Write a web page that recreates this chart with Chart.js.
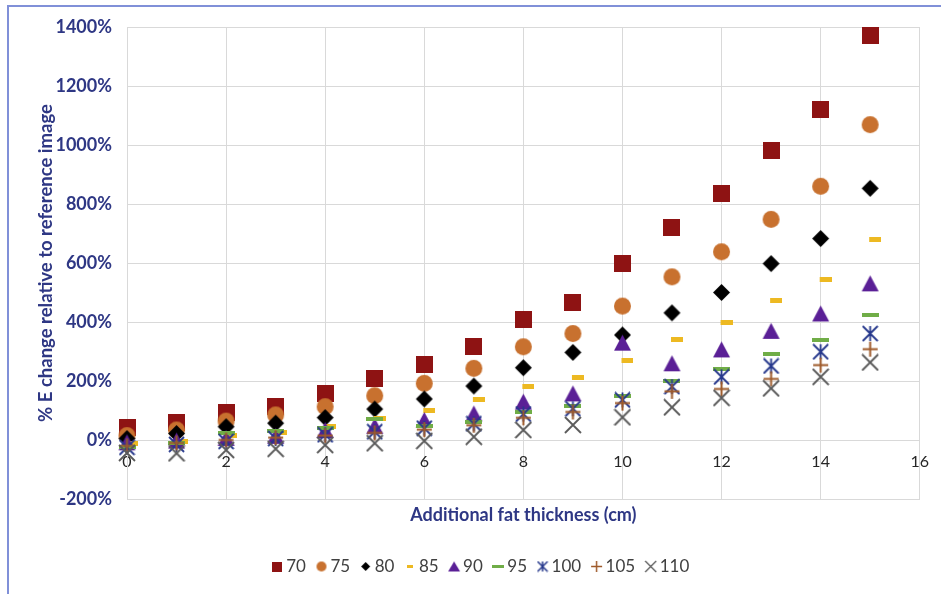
<!DOCTYPE html>
<html><head><meta charset="utf-8">
<script src="https://cdn.jsdelivr.net/npm/chart.js@4/dist/chart.umd.min.js"></script>
<style>
html,body{margin:0;padding:0;background:#fff;}
#wrap{position:relative;width:941px;height:594px;overflow:hidden;}
#frame{position:absolute;left:7px;top:5px;right:-4px;bottom:-4px;border-left:2px solid #8090D8;border-top:2px solid #8090D8;}
canvas{position:absolute;left:0;top:0;}
</style></head><body>
<div id="wrap"><div id="frame"></div><canvas id="c" width="941" height="594"></canvas></div>
<script>
// ---- data ----
const thickness = [0,1,2,3,4,5,6,7,8,9,10,11,12,13,14,15];
const seriesNames = ['70','75','80','85','90','95','100','105','110'];
const s70  = [42, 61, 93, 115, 156, 208, 257, 318, 409, 466, 598, 722, 836, 982, 1120, 1371];
const s75  = [15, 34, 64, 85, 113, 150, 192, 243, 316, 361, 454, 553, 638, 748, 860, 1069];
const s80  = [5, 22, 45, 57, 76, 105, 139, 183, 245, 297, 356, 431, 500, 598, 683, 853];
const s85  = [-12, -4, 14, 25, 46, 72, 99, 136, 183, 213, 271, 339, 397, 474, 545, 678];
const s90  = [-8, -2, 7, 14, 34, 48, 68, 90, 130, 158, 330, 260, 307, 370, 429, 531];
const s95  = [-25, -10, 25, 30, 40, 70, 46, 62, 96, 115, 150, 200, 242, 291, 339, 424];
const s100 = [-25, -15, -5, 5, 18, 28, 40, 55, 88, 106, 136, 181, 214, 251, 299, 361];
const s105 = [-20, -10, 0, 8, 15, 24, 35, 50, 75, 95, 125, 165, 173, 207, 254, 308];
const s110 = [-44, -45, -34, -30, -17, -11, -3, 11, 34, 51, 77, 111, 143, 175, 214, 263];
const seriesValues = [s70, s75, s80, s85, s90, s95, s100, s105, s110];
const yTickValues = [-200, 0, 200, 400, 600, 800, 1000, 1200, 1400];
const xTickValues = [0, 2, 4, 6, 8, 10, 12, 14, 16];

// ---- styles ----
const colors = ['#8E1313','#C8712F','#000000','#EDB922','#5A1F96','#70AD47','#26388C','#9E5A2A','#595959'];
const navy = '#2E3784';
const FONT = 'Lato';

function mk(w, h, draw) {
  const c = document.createElement('canvas');
  c.width = w; c.height = h;
  draw(c.getContext('2d'), w, h);
  return c;
}
function square(s, col){ return mk(s, s, g=>{g.fillStyle=col; g.fillRect(0,0,s,s);}); }
function circle(d, col){ const n=d+2; return mk(n,n,g=>{g.fillStyle=col; g.beginPath(); g.arc(n/2,n/2,d/2,0,Math.PI*2); g.fill();}); }
function diamond(d, col){ const n=d+2; return mk(n,n,g=>{g.fillStyle=col; g.beginPath(); g.moveTo(n/2,1); g.lineTo(n-1,n/2); g.lineTo(n/2,n-1); g.lineTo(1,n/2); g.closePath(); g.fill();}); }
function dash(w,h,dx,col){ const W=Math.ceil(2*(Math.abs(dx)+w/2)); return mk(W,h,g=>{g.fillStyle=col; g.fillRect(W/2+dx-w/2,0,w,h);}); }
function triangle(w,h,col){ return mk(w+2,h+2,g=>{g.fillStyle=col; g.beginPath(); g.moveTo((w+2)/2,1); g.lineTo(w+1,h+1); g.lineTo(1,h+1); g.closePath(); g.fill();}); }
function strokes(s, lw, col, kind){
  const n = s+2;
  return mk(n,n,g=>{
    g.strokeStyle=col; g.lineWidth=lw; g.lineCap='butt'; g.beginPath();
    if (kind==='x' || kind==='ast'){ g.moveTo(1,1); g.lineTo(n-1,n-1); g.moveTo(n-1,1); g.lineTo(1,n-1); }
    if (kind==='ast' || kind==='plus'){ g.moveTo(n/2,1); g.lineTo(n/2,n-1); }
    if (kind==='plus'){ g.moveTo(1,n/2); g.lineTo(n-1,n/2); }
    g.stroke();
  });
}
const chartMarkers = [
  square(17, colors[0]), circle(17, colors[1]), diamond(17, colors[2]),
  dash(12, 5, 5, colors[3]), triangle(17, 16, colors[4]), dash(17, 4, 0, colors[5]),
  strokes(15, 1.8, colors[6], 'ast'), strokes(15, 2, colors[7], 'plus'), strokes(16, 1.8, colors[8], 'x')
];
const legendMarkers = [
  square(10, colors[0]), circle(10, colors[1]), diamond(9, colors[2]),
  dash(6, 3, 0, colors[3]), triangle(12, 10, colors[4]), dash(12, 3, 0, colors[5]),
  strokes(10, 1.5, colors[6], 'ast'), strokes(11, 1.5, colors[7], 'plus'), strokes(11, 1.3, colors[8], 'x')
];

const datasets = seriesNames.map((name, i) => ({
  label: name,
  data: thickness.map((x, j) => ({x: x, y: seriesValues[i][j]})),
  pointStyle: chartMarkers[i],
  pointRadius: 9, pointHoverRadius: 9,
  backgroundColor: colors[i], borderColor: colors[i],
  showLine: false, clip: false,
  order: seriesNames.length - i
}));

new Chart(document.getElementById('c'), {
  type: 'scatter',
  data: { datasets },
  options: {
    responsive: false, animation: false, devicePixelRatio: 1,
    layout: { padding: { left: 44, top: 27, right: 19, bottom: 9 } },
    plugins: {
      tooltip: { enabled: false },
      legend: {
        position: 'bottom',
        labels: {
          usePointStyle: true, boxWidth: 1, boxHeight: 12, padding: 15,
          color: '#404040', font: { family: FONT, size: 17 },
          generateLabels(chart) {
            const items = Chart.defaults.plugins.legend.labels.generateLabels(chart);
            items.sort((a, b) => a.datasetIndex - b.datasetIndex);
            items.forEach(it => { it.pointStyle = legendMarkers[it.datasetIndex]; });
            return items;
          }
        }
      }
    },
    scales: {
      x: {
        type: 'linear', position: 'bottom', min: 0, max: 16,
        afterBuildTicks(s){ s.ticks = xTickValues.map(v => ({value: v})); },
        ticks: { display: false },
        grid: { color: '#D9D9D9', drawTicks: false },
        border: { color: '#D9D9D9' },
        title: { display: true, text: 'Additional fat thickness (cm)', color: navy,
                 font: { family: FONT, size: 18, weight: 'bold' }, padding: { top: 0, bottom: 17.2 } },
        afterFit(s){ s.height = 44; }
      },
      x2: {
        type: 'linear', axis: 'x', position: { y: 0 }, min: 0, max: 16,
        afterBuildTicks(s){ s.ticks = xTickValues.map(v => ({value: v})); },
        ticks: { color: '#262626', font: { family: FONT, size: 16 }, padding: 12, maxRotation: 0, autoSkip: false },
        grid: { display: false, drawTicks: false },
        border: { display: false },
        afterFit(s){ s.height = 0; }
      },
      y: {
        type: 'linear', min: -200, max: 1400,
        afterBuildTicks(s){ s.ticks = yTickValues.map(v => ({value: v})); },
        ticks: { callback: v => v + '%', color: navy, font: { family: FONT, size: 18, weight: 'bold' }, padding: 15 },
        grid: { color: '#D9D9D9', drawTicks: false },
        border: { color: '#D9D9D9' },
        title: { display: true, text: '% E change relative to reference image', color: navy,
                 font: { family: FONT, size: 18.5, weight: 'bold' }, padding: { top: -9.5, bottom: 0 } },
        afterFit(s){ s.width = 83; }
      }
    }
  }
});
</script>
</body></html>
